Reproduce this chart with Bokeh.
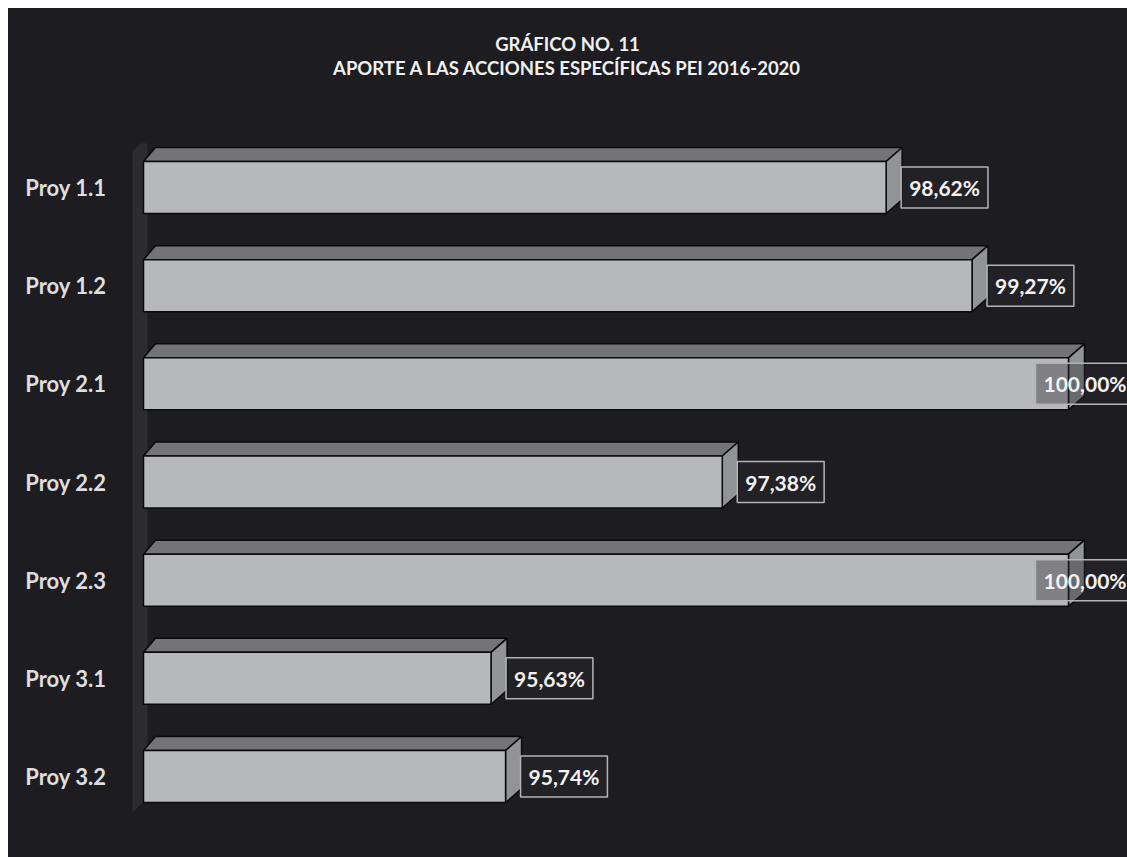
import numpy as np
from bokeh.plotting import figure
from bokeh.models import Range1d, FixedTicker, ColumnDataSource, Spacer
from bokeh.layouts import column, row
from bokeh.core.properties import value
from bokeh.embed import file_html
from bokeh.resources import INLINE

# ---- data ----
categories = ["Proy 1.1", "Proy 1.2", "Proy 2.1", "Proy 2.2", "Proy 2.3", "Proy 3.1", "Proy 3.2"]
values = [98.62, 99.27, 100.00, 97.38, 100.00, 95.63, 95.74]
labels = ["98,62%", "99,27%", "100,00%", "97,38%", "100,00%", "95,63%", "95,74%"]
title1 = "GRÁFICO NO. 11"
title2 = "APORTE A LAS ACCIONES ESPECÍFICAS PEI 2016-2020"
axis_min = 93.0
axis_max = 100.0

# ---- layout (pixels, relative to the figure) ----
W, H = 1119, 849
frame_left = 123          # frame left edge in figure px
base_px = 135             # where axis_min sits
px_per_unit_x = 925 / (axis_max - axis_min)
px_per_cat = 98.17
top_center_px = 179       # figure y of first category
bg = "#1d1c21"
FONT = "Lato"

x0 = axis_min - (base_px - frame_left) / px_per_unit_x
x1 = x0 + (W - frame_left) / px_per_unit_x
n = len(categories)
y_top = (n - 1) + top_center_px / px_per_cat
y_bot = y_top - H / px_per_cat

def xpx(px):   # px width -> data units (x)
    return px / px_per_unit_x
def ypx(px):   # px height -> data units (y)
    return px / px_per_cat
def fig_x(px):
    return x0 + (px - frame_left) / px_per_unit_x
def fig_y(px):
    return y_top - px / px_per_cat

p = figure(width=W, height=H, output_backend="svg", toolbar_location=None,
           x_range=Range1d(x0, x1), y_range=Range1d(y_bot, y_top),
           min_border_left=frame_left, min_border_right=0, min_border_top=0, min_border_bottom=0)
p.background_fill_color = bg
p.border_fill_color = bg
p.styles = {"background-color": bg}
p.outline_line_color = None
p.grid.visible = False
p.xaxis.visible = False

ys = np.arange(n - 1, -1, -1, dtype=float)
vals = np.array(values)
h = 0.53
dx = xpx(16)
dxl = xpx(12)
dy = ypx(14)

# floor / side wall
wall_top = ys[0] + h / 2 + dy + ypx(4)
wall_bot = ys[-1] - h / 2 - ypx(10)
p.patch([axis_min - xpx(11), axis_min - xpx(11), axis_min - xpx(3), axis_min + xpx(4), axis_min + xpx(4)],
        [wall_bot, wall_top - ypx(8), wall_top, wall_top, wall_bot + dy],
        fill_color="#2b2b30", line_color=None)

# top faces
top_xs = [[axis_min, v, v + dx, axis_min + dxl] for v in vals]
top_ys = [[c + h / 2, c + h / 2, c + h / 2 + dy, c + h / 2 + dy] for c in ys]
p.patches(top_xs, top_ys, fill_color="#747478", line_color="#0a0a0a", line_width=1.5)

# side faces
side_xs = [[v, v, v + dx, v + dx] for v in vals]
side_ys = [[c - h / 2, c + h / 2, c + h / 2 + dy, c - h / 2 + dy] for c in ys]
p.patches(side_xs, side_ys, fill_color="#929397", line_color="#0a0a0a", line_width=1.5)

# front faces
src = ColumnDataSource(dict(y=ys, right=vals, cat=categories, lab=labels,
                            off=[-33 if v >= 100 else 15 for v in vals]))
p.hbar(y="y", left=axis_min, right="right", height=h, source=src,
       fill_color="#b7b8bc", line_color="#0a0a0a", line_width=1.5)

# value labels
p.text(x="right", y="y", text="lab", x_offset="off", source=src,
       text_font=value(FONT), text_font_style="bold", text_font_size="21px",
       text_color="#f2f2f2", text_align="left", text_baseline="middle",
       background_fill_color="#2a2a2f", background_fill_alpha=0.4,
       border_line_color="#b4b4b4", border_line_width=1.5, padding=8)

# titles
p.text(x=[fig_x(559)], y=[fig_y(35)], text=[title1], text_font=value(FONT),
       text_font_style="bold", text_font_size="18.5px", text_color="#f0f0f0",
       text_align="center", text_baseline="middle")
p.text(x=[fig_x(559)], y=[fig_y(59)], text=[title2], text_font=value(FONT),
       text_font_style="bold", text_font_size="18.5px", text_color="#f0f0f0",
       text_align="center", text_baseline="middle")

# y axis
p.yaxis.ticker = FixedTicker(ticks=list(ys))
p.yaxis.major_label_overrides = {float(c): cat for c, cat in zip(ys, categories)}
p.yaxis.major_label_text_font = FONT
p.yaxis.major_label_text_font_style = "bold"
p.yaxis.major_label_text_font_size = "22px"
p.yaxis.major_label_text_color = "#dedede"
p.yaxis.axis_line_color = None
p.yaxis.major_tick_line_color = None
p.yaxis.minor_tick_line_color = None
p.yaxis.major_label_standoff = 19

layout = column(Spacer(height=8), row(Spacer(width=8), p, spacing=0), spacing=0)
open("out.html", "w").write(file_html(layout, INLINE))
